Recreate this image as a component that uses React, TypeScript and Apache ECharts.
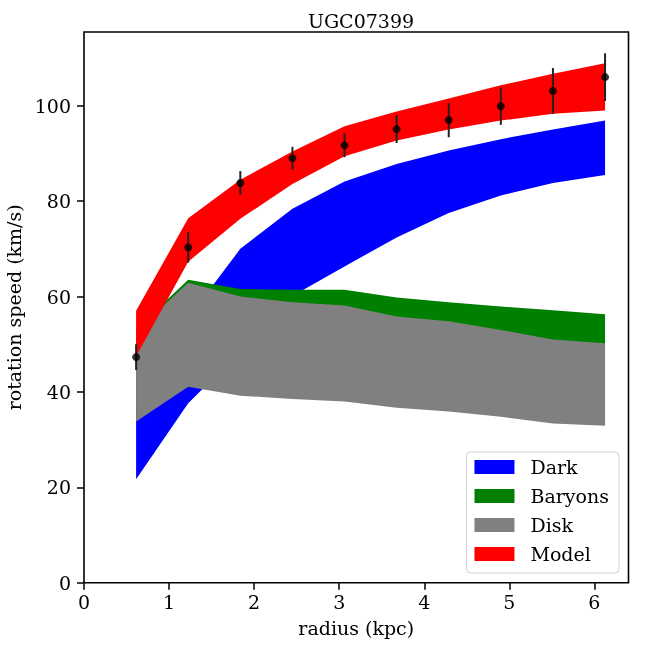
import React, { useEffect, useRef } from "react";
import * as echarts from "echarts";

const radius = [0.6125, 1.225, 1.8375, 2.45, 3.0625, 3.675, 4.2875, 4.9, 5.5125, 6.125];
const obsSpeed = [47.3, 70.3, 83.8, 89.0, 91.7, 95.1, 97.0, 99.9, 103.1, 106.0];
const obsError = [2.7, 3.2, 2.5, 2.4, 2.5, 2.9, 3.6, 3.9, 4.8, 5.0];

const darkLo = [21.7, 37.6, 48.5, 60.1, 66.3, 72.4, 77.5, 81.2, 83.8, 85.5];
const darkHi = [40.0, 55.5, 70.0, 78.4, 84.1, 87.8, 90.6, 93.0, 95.0, 96.9];
const baryonsLo = [37.0, 41.0, 42.6, 42.5, 42.3, 42.2, 42.1, 42.0, 41.9, 41.9];
const baryonsHi = [53.2, 63.5, 61.6, 61.4, 61.4, 59.8, 58.8, 57.9, 57.1, 56.3];
const diskLo = [33.8, 41.1, 39.2, 38.5, 38.0, 36.7, 35.9, 34.8, 33.4, 32.9];
const diskHi = [52.7, 62.9, 60.0, 58.8, 58.1, 55.8, 54.8, 53.0, 51.0, 50.2];
const modelLo = [47.5, 67.3, 76.3, 83.6, 89.4, 92.7, 95.0, 96.9, 98.3, 99.0];
const modelHi = [57.0, 76.4, 84.5, 90.4, 95.7, 98.8, 101.5, 104.3, 106.7, 108.9];

const xTicks = [0, 1, 2, 3, 4, 5, 6];
const yTicks = [0, 20, 40, 60, 80, 100];
const legendNames = ["Dark", "Baryons", "Disk", "Model"];

const FONT = "DejaVu Serif";

function bandSeries(name: string, lo: number[], hi: number[], color: string, z: number) {
  return {
    type: "custom",
    name,
    z,
    itemStyle: { color },
    data: radius.map((r, i) => [r, lo[i], hi[i]]),
    encode: { x: 0, y: [1, 2] },
    clip: true,
    renderItem: (params: any, api: any) => {
      if (params.dataIndex !== 0) return null;
      const pts: number[][] = [];
      for (let i = 0; i < radius.length; i++) pts.push(api.coord([radius[i], hi[i]]));
      for (let i = radius.length - 1; i >= 0; i--) pts.push(api.coord([radius[i], lo[i]]));
      return { type: "polygon", shape: { points: pts }, style: { fill: color, stroke: null } };
    },
  };
}

export default function App() {
  const ref = useRef<HTMLDivElement>(null);
  useEffect(() => {
    if (!ref.current) return;
    const chart = echarts.init(ref.current, null, { renderer: "svg" });
    const dataMax = Math.max(...obsSpeed.map((v, i) => v + obsError[i]));
    const dataMin = Math.min(...darkLo);
    const yMax = dataMax + 0.05 * (dataMax - dataMin);
    const xMax = radius[radius.length - 1] + 0.05 * (radius[radius.length - 1] - radius[0]);
    chart.setOption({
      animation: false,
      title: {
        text: "UGC07399",
        left: 356,
        top: 6,
        textAlign: "center",
        textStyle: { fontFamily: FONT, fontSize: 19, fontWeight: "normal", color: "#000" },
      },
      grid: {
        left: 84,
        right: 19.5,
        top: 32,
        bottom: 65.3,
        show: true,
        borderColor: "#000",
        borderWidth: 1.6,
        backgroundColor: "transparent",
        containLabel: false,
        outerBoundsMode: "none",
      },
      legend: {
        data: legendNames.map((n) => ({ name: n, icon: "rect" })),
        orient: "vertical",
        right: 29,
        bottom: 75,
        itemWidth: 40,
        itemHeight: 14,
        itemGap: 9,
        padding: [5, 10, 9, 8],
        borderColor: "#d0d0d0",
        borderWidth: 1,
        borderRadius: 4,
        backgroundColor: "rgba(255,255,255,0.8)",
        textStyle: { fontFamily: FONT, fontSize: 19, color: "#000", lineHeight: 20, padding: [0, 0, 0, 11] },
      },
      xAxis: {
        type: "value",
        min: 0,
        max: xMax,
        name: "radius (kpc)",
        nameLocation: "middle",
        nameGap: 36,
        nameTextStyle: { fontFamily: FONT, fontSize: 19, color: "#000" },
        axisLine: { show: false },
        splitLine: { show: false },
        axisTick: { show: true, length: 7, lineStyle: { color: "#000", width: 1.5 }, customValues: xTicks },
        axisLabel: { fontFamily: FONT, fontSize: 19, color: "#000", margin: 10, customValues: xTicks },
      },
      yAxis: {
        type: "value",
        min: 0,
        max: yMax,
        name: "rotation speed (km/s)",
        nameLocation: "middle",
        nameGap: 51,
        nameTextStyle: { fontFamily: FONT, fontSize: 19, color: "#000" },
        axisLine: { show: false },
        splitLine: { show: false },
        axisTick: { show: true, length: 7, lineStyle: { color: "#000", width: 1.5 }, customValues: yTicks },
        axisLabel: { fontFamily: FONT, fontSize: 19, color: "#000", margin: 13, customValues: yTicks },
      },
      series: [
        bandSeries("Dark", darkLo, darkHi, "#0000ff", 1),
        bandSeries("Baryons", baryonsLo, baryonsHi, "#008000", 2),
        bandSeries("Disk", diskLo, diskHi, "#808080", 3),
        bandSeries("Model", modelLo, modelHi, "#ff0000", 4),
        {
          type: "custom",
          name: "errors",
          z: 5,
          data: radius.map((r, i) => [r, obsSpeed[i] - obsError[i], obsSpeed[i] + obsError[i]]),
          encode: { x: 0, y: [1, 2] },
          renderItem: (params: any, api: any) => {
            const p1 = api.coord([api.value(0), api.value(1)]);
            const p2 = api.coord([api.value(0), api.value(2)]);
            return {
              type: "line",
              shape: { x1: p1[0], y1: p1[1], x2: p2[0], y2: p2[1] },
              style: { stroke: "#222", lineWidth: 2 },
            };
          },
        },
        {
          type: "scatter",
          name: "data",
          z: 6,
          symbol: "circle",
          symbolSize: 8,
          itemStyle: { color: "#000" },
          data: radius.map((r, i) => [r, obsSpeed[i]]),
        },
      ],
    });
    return () => chart.dispose();
  }, []);
  return <div ref={ref} style={{ position: "fixed", left: 0, top: 0, width: 648, height: 648 }} />;
}
